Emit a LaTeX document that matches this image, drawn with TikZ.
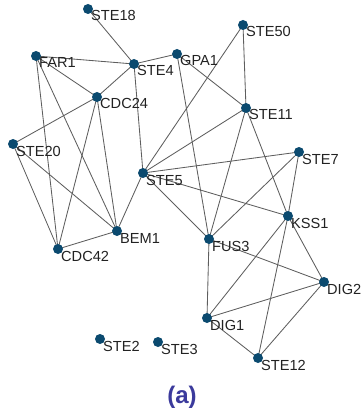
\documentclass[tikz,border=0pt]{standalone}
\usepackage{fontspec}
\setmainfont{Liberation Sans}
\pgfdeclarelayer{bg}
\pgfsetlayers{bg,main}
\definecolor{dotc}{HTML}{0B4A6F}
\definecolor{edgec}{HTML}{5E5E5E}
\definecolor{labc}{HTML}{222222}
\definecolor{capc}{HTML}{3B3A9C}
\tikzset{
  dot/.style={circle, fill=dotc, draw=none, minimum size=10pt, inner sep=0pt},
  lab/.style={anchor=base west, inner sep=0pt, text=labc, font=\fontsize{14.6}{16}\selectfont},
  edge/.style={draw=edgec, line width=0.85pt}
}
\begin{document}
\begin{tikzpicture}[x=1pt, y=-1pt]
\useasboundingbox (0,0) rectangle (362,414);
\foreach \n/\x/\y in {STE18/88/9, FAR1/36/56, STE4/134/64, GPA1/177/54, STE50/243/25,
  CDC24/97/97, STE11/246/108, STE20/13/144, STE5/143/173, STE7/299/152, KSS1/288/216,
  BEM1/117/231, CDC42/58/249, FUS3/209/239, DIG2/324/282, DIG1/207/318,
  STE2/100/339, STE3/158/342, STE12/258/358}{
  \node[dot] (\n) at (\x,\y) {};
  \node[lab] (\n-l) at ([shift={(3,12)}]\n.center) {\n};
}
\begin{pgfonlayer}{bg}
\foreach \a/\b in {STE18/STE4, FAR1/STE4, FAR1/CDC24, FAR1/CDC42, FAR1/BEM1,
  STE4/CDC24, STE4/GPA1, STE4/STE5, CDC24/STE20, CDC24/CDC42, CDC24/BEM1,
  STE20/CDC42, STE20/BEM1, CDC42/BEM1, BEM1/STE5, GPA1/STE11, GPA1/FUS3,
  STE50/STE11, STE50/STE5, STE11/STE5, STE11/FUS3, STE11/KSS1, STE7/STE5,
  STE7/FUS3, STE7/KSS1, STE5/KSS1, STE5/FUS3, FUS3/DIG2, FUS3/DIG1,
  KSS1/DIG1, KSS1/STE12, KSS1/DIG2, DIG1/DIG2, DIG1/STE12, DIG2/STE12}{
  \draw[edge] (\a.center) -- (\b.center);
}
\end{pgfonlayer}
\node[text=capc, font=\fontsize{24}{28}\selectfont\bfseries] (cap) at (182,397) {(a)};
\end{tikzpicture}
\end{document}
